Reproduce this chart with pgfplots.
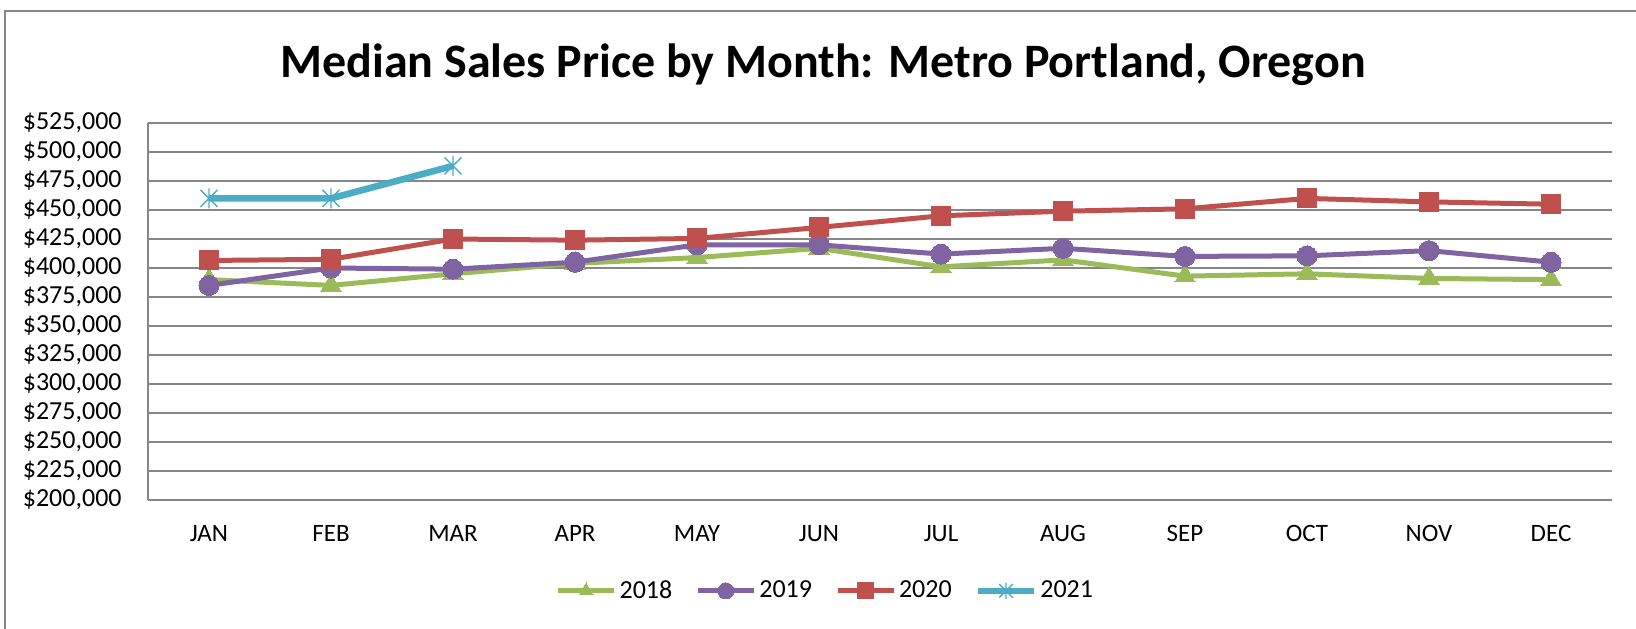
\documentclass[border=0pt]{standalone}
\usepackage{pgfplots}
\pgfplotsset{compat=1.18}
\usepackage{fontspec}
\setmainfont{Carlito}
\definecolor{c18}{HTML}{9BBB59}
\definecolor{c19}{HTML}{8064A2}
\definecolor{c20}{HTML}{C0504D}
\definecolor{c21}{HTML}{4BACC6}
\definecolor{gridc}{HTML}{868686}
\pgfdeclareplotmark{xstar}{%
  \pgfpathmoveto{\pgfqpoint{0pt}{\pgfplotmarksize}}%
  \pgfpathlineto{\pgfqpoint{0pt}{-\pgfplotmarksize}}%
  \pgfpathmoveto{\pgfqpoint{.85\pgfplotmarksize}{.85\pgfplotmarksize}}%
  \pgfpathlineto{\pgfqpoint{-.85\pgfplotmarksize}{-.85\pgfplotmarksize}}%
  \pgfpathmoveto{\pgfqpoint{-.85\pgfplotmarksize}{.85\pgfplotmarksize}}%
  \pgfpathlineto{\pgfqpoint{.85\pgfplotmarksize}{-.85\pgfplotmarksize}}%
  \pgfusepathqstroke}
\begin{document}
\begin{tikzpicture}
\useasboundingbox (0,0) rectangle (818pt,-314pt);
\draw[gridc, line width=1pt] (2.5pt,-320pt) -- (2.5pt,-5.5pt) -- (825pt,-5.5pt);
\node[anchor=base, font=\fontsize{24}{29}\selectfont\bfseries] at (411.5pt,-38.5pt) {Median Sales Price by Month: Metro Portland, Oregon};
\begin{axis}[
  at={(74pt,-250pt)}, anchor=south west,
  width=732pt, height=188.5pt, scale only axis,
  xmin=-0.5, xmax=11.5, ymin=200000, ymax=525000,
  xtick={0,...,11},
  xticklabels={JAN,FEB,MAR,APR,MAY,JUN,JUL,AUG,SEP,OCT,NOV,DEC},
  ytick={200000,225000,250000,275000,300000,325000,350000,375000,400000,425000,450000,475000,500000,525000},
  yticklabels={\$200{,}000,\$225{,}000,\$250{,}000,\$275{,}000,\$300{,}000,\$325{,}000,\$350{,}000,\$375{,}000,\$400{,}000,\$425{,}000,\$450{,}000,\$475{,}000,\$500{,}000,\$525{,}000},
  scaled y ticks=false,
  major tick length=0pt,
  ymajorgrids, grid style={gridc, line width=1pt},
  axis x line*=bottom, axis y line*=left,
  axis line style={gridc, line width=1pt, -},
  xticklabel style={anchor=base, yshift=-20.8pt, inner sep=0pt, font=\fontsize{12.5}{15}\selectfont},
  yticklabel style={anchor=east, xshift=-13pt, inner sep=0pt, font=\fontsize{13}{15.6}\selectfont},
  legend columns=4,
  legend style={at={(0.463,-0.241)}, anchor=center, draw=none, fill=none,
    font=\fontsize{13}{15.6}\selectfont,
    nodes={inner sep=1.5pt},
    /tikz/every even column/.append style={column sep=10pt}},
  legend image code/.code={\draw[mark repeat=2,mark phase=2,#1] plot coordinates {(0pt,0pt) (14pt,0pt) (28pt,0pt)};},
  legend image post style={mark size=4pt},
  clip=false,
]
\addplot[c18, line width=2.5pt, mark=triangle*, mark size=5.8pt, mark options={solid, fill=c18, line width=0pt}]
coordinates {(0,390000) (1,385000) (2,395000) (3,404000) (4,409000) (5,417000) (6,401000) (7,407000) (8,393000) (9,395000) (10,391000) (11,390000)};
\addlegendentry{2018}
\addplot[c19, line width=2.5pt, mark=*, mark size=5pt, mark options={solid, fill=c19, line width=0pt}]
coordinates {(0,385000) (1,400000) (2,399000) (3,405000) (4,420000) (5,420000) (6,412000) (7,417000) (8,410000) (9,410500) (10,415000) (11,405000)};
\addlegendentry{2019}
\addplot[c20, line width=2.5pt, mark=square*, mark size=4.75pt, mark options={solid, fill=c20, line width=0pt}]
coordinates {(0,406500) (1,407500) (2,425000) (3,424000) (4,425500) (5,435000) (6,445000) (7,449000) (8,451000) (9,460000) (10,457000) (11,455000)};
\addlegendentry{2020}
\addplot[c21, line width=3.3pt, mark=xstar, mark size=5pt, mark options={solid, line width=0.7pt}]
coordinates {(0,460000) (1,460000) (2,488000)};
\addlegendentry{2021}
\end{axis}
\end{tikzpicture}
\end{document}
